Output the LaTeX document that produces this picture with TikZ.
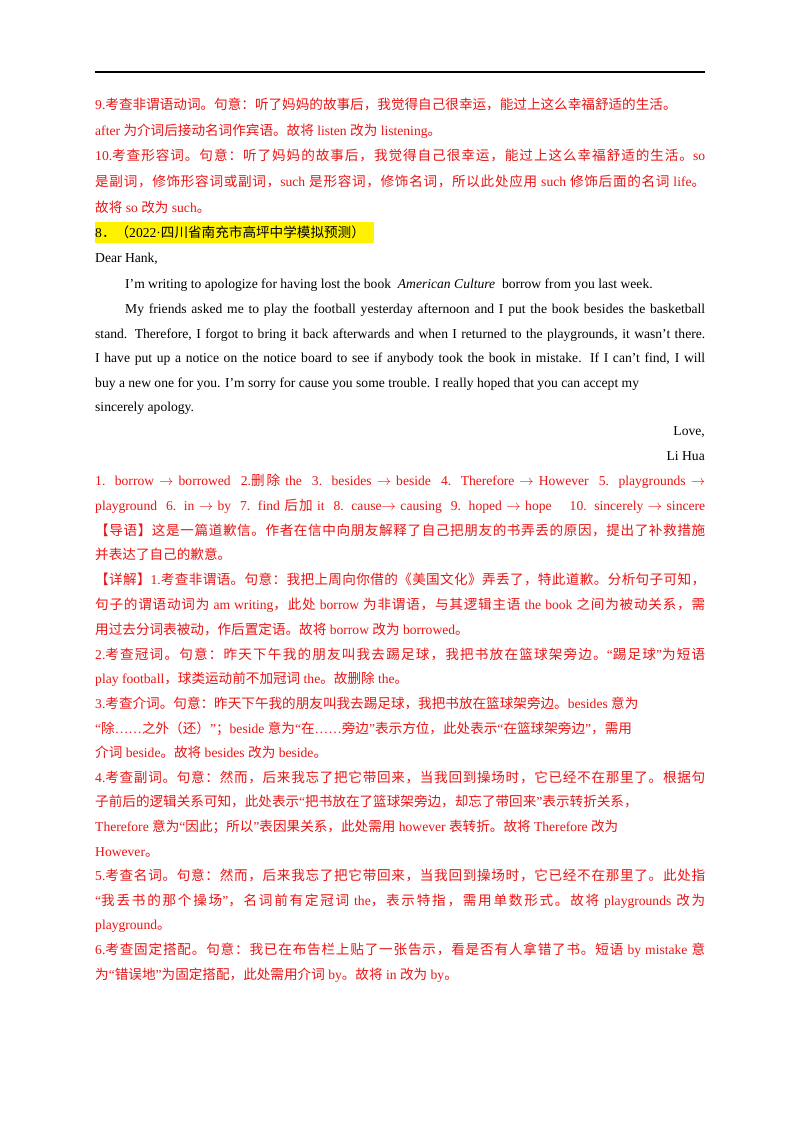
\documentclass[tikz,border=0pt]{standalone}
\usepackage{fontspec}
\setmainfont{Liberation Serif}
\newfontfamily\cjk{Noto Sans CJK SC}
\XeTeXinterchartokenstate=1
\newXeTeXintercharclass\CJKcls
\count255="3000
\loop \XeTeXcharclass\count255=\CJKcls \ifnum\count255<"9FFF \advance\count255 by 1 \repeat
\count255="FF00
\loop \XeTeXcharclass\count255=\CJKcls \ifnum\count255<"FFEF \advance\count255 by 1 \repeat
\XeTeXinterchartoks 0 \CJKcls = {\cjk}
\XeTeXinterchartoks 4095 \CJKcls = {\cjk}
\XeTeXinterchartoks \CJKcls 0 = {\rmfamily}
\XeTeXinterchartoks \CJKcls 4095 = {\rmfamily}
\XeTeXinterchartoks \CJKcls \CJKcls = {\hskip0pt plus 2pt}
\definecolor{ansred}{RGB}{235,20,20}
\tikzset{ln/.style={anchor=base west,inner sep=0pt,font=\fontsize{13.6}{16}\selectfont},
 rln/.style={ln,text=ansred}}
\newcommand\fl[1]{\hbox to 610pt{#1}}
\begin{document}
\begin{tikzpicture}[x=1pt,y=-1pt]
\useasboundingbox[fill=white] (0,0) rectangle (800,1132);
\draw[line width=1.2pt] (95,72) -- (705,72);
\node[rln] (l1) at (95,109) {9.考查非谓语动词。句意：听了妈妈的故事后，我觉得自己很幸运，能过上这么幸福舒适的生活。};
\node[rln] (l2) at (95,135) {after 为介词后接动名词作宾语。故将 listen 改为 listening。};
\node[rln] (l3) at (95,160) {\fl{10.考查形容词。句意：听了妈妈的故事后，我觉得自己很幸运，能过上这么幸福舒适的生活。so}};
\node[rln] (l4) at (95,186) {\fl{是副词，修饰形容词或副词，such 是形容词，修饰名词，所以此处应用 such 修饰后面的名词 life。}};
\node[rln] (l5) at (95,212) {故将 so 改为 such。};
\fill[yellow] (95,222) rectangle (374,243);
\node[ln] (h8) at (95,237) {8．（2022·四川省南充市高坪中学模拟预测）};
\node[ln] (d1) at (95,262) {Dear Hank,};
\node[ln] (d2) at (125,288) {I'm writing to apologize for having lost the book \ \textit{American Culture} \ borrow from you last week.};
\node[ln] (d3) at (125,313) {\hbox to 580pt{My friends asked me to play the football yesterday afternoon and I put the book besides the basketball}};
\node[ln] (d4) at (95,338) {\fl{stand. Therefore, I forgot to bring it back afterwards and when I returned to the playgrounds, it wasn't there.}};
\node[ln] (d5) at (95,362) {\fl{I have put up a notice on the notice board to see if anybody took the book in mistake. If I can't find, I will}};
\node[ln] (d6) at (95,387) {buy a new one for you. I'm sorry for cause you some trouble. I really hoped that you can accept my};
\node[ln] (d7) at (95,411) {sincerely apology.};
\node[ln,anchor=base east] (d8) at (705,435) {Love,};
\node[ln,anchor=base east] (d9) at (705,460) {Li Hua};
\node[rln] (a1) at (95,485) {\fl{1. borrow $\rightarrow$ borrowed \ 2.删除 the \ 3. besides $\rightarrow$ beside \ 4. Therefore $\rightarrow$ However \ 5. playgrounds $\rightarrow$}};
\node[rln] (a2) at (95,510) {\fl{playground \ 6. in $\rightarrow$ by \ 7. find 后加 it \ 8. cause$\rightarrow$ causing \ 9. hoped $\rightarrow$ hope \quad 10. sincerely $\rightarrow$ sincere}};
\node[rln] (a3) at (95,535) {\fl{【导语】这是一篇道歉信。作者在信中向朋友解释了自己把朋友的书弄丢的原因，提出了补救措施}};
\node[rln] (a4) at (95,559) {并表达了自己的歉意。};
\node[rln] (a5) at (95,584) {\fl{【详解】1.考查非谓语。句意：我把上周向你借的《美国文化》弄丢了，特此道歉。分析句子可知，}};
\node[rln] (a6) at (95,609) {\fl{句子的谓语动词为 am writing，此处 borrow 为非谓语，与其逻辑主语 the book 之间为被动关系，需}};
\node[rln] (a7) at (95,634) {用过去分词表被动，作后置定语。故将 borrow 改为 borrowed。};
\node[rln] (a8) at (95,659) {\fl{2.考查冠词。句意：昨天下午我的朋友叫我去踢足球，我把书放在篮球架旁边。“踢足球”为短语}};
\node[rln] (a9) at (95,683) {play football，球类运动前不加冠词 the。故删除 the。};
\node[rln] (a10) at (95,708) {3.考查介词。句意：昨天下午我的朋友叫我去踢足球，我把书放在篮球架旁边。besides 意为};
\node[rln] (a11) at (95,733) {“除……之外（还）”；beside 意为“在……旁边”表示方位，此处表示“在篮球架旁边”，需用};
\node[rln] (a12) at (95,757) {介词 beside。故将 besides 改为 beside。};
\node[rln] (a13) at (95,782) {\fl{4.考查副词。句意：然而，后来我忘了把它带回来，当我回到操场时，它已经不在那里了。根据句}};
\node[rln] (a14) at (95,806) {子前后的逻辑关系可知，此处表示“把书放在了篮球架旁边，却忘了带回来”表示转折关系，};
\node[rln] (a15) at (95,831) {Therefore 意为“因此；所以”表因果关系，此处需用 however 表转折。故将 Therefore 改为};
\node[rln] (a16) at (95,856) {However。};
\node[rln] (a17) at (95,880) {\fl{5.考查名词。句意：然而，后来我忘了把它带回来，当我回到操场时，它已经不在那里了。此处指}};
\node[rln] (a18) at (95,905) {\fl{“我丢书的那个操场”，名词前有定冠词 the，表示特指，需用单数形式。故将 playgrounds 改为}};
\node[rln] (a19) at (95,929) {playground。};
\node[rln] (a20) at (95,954) {\fl{6.考查固定搭配。句意：我已在布告栏上贴了一张告示，看是否有人拿错了书。短语 by mistake 意}};
\node[rln] (a21) at (95,979) {为“错误地”为固定搭配，此处需用介词 by。故将 in 改为 by。};
\end{tikzpicture}
\end{document}
